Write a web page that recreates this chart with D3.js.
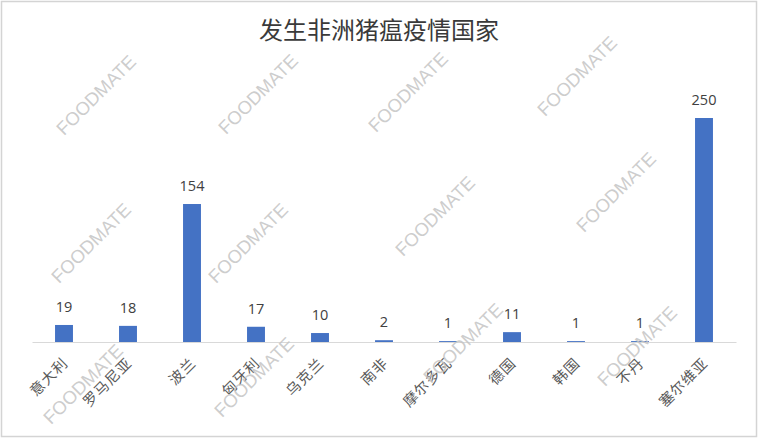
<!DOCTYPE html>
<html><head><meta charset="utf-8">
<script src="https://cdn.jsdelivr.net/npm/d3@7"></script>
<style>html,body{margin:0;padding:0;background:#fff;}svg{display:block;}</style>
</head><body>
<svg id="c" width="758" height="438"></svg>
<script>
const categories = ["意大利","罗马尼亚","波兰","匈牙利","乌克兰","南非","摩尔多瓦","德国","韩国","不丹","塞尔维亚"];
const values = [19,18,154,17,10,2,1,11,1,1,250];
const title = "发生非洲猪瘟疫情国家";
const watermark = "FOODMATE";
const watermarkSpots = [[96,95],[258,94],[408,92],[577,76],[435,216],[616,192],[91,243],[248,243],[83,384],[254,377],[463,343],[637,346]];

const W = 758, H = 438;
const svg = d3.select("#c");
svg.append("rect").attr("x",1.5).attr("y",1.5).attr("width",W-3).attr("height",H-3)
  .attr("fill","#fff").attr("stroke","#d4d4d4").attr("stroke-width",1.5);

const x = d3.scaleBand().domain(categories).range([32,736]).paddingInner(0.72).paddingOuter(0.36);
const y = d3.scaleLinear().domain([0,300]).range([342,73.2]);

svg.append("text").attr("x",379).attr("y",39).attr("text-anchor","middle")
  .attr("font-family","'Noto Sans CJK SC', sans-serif").attr("font-size",24)
  .attr("fill","#3a3a3a").text(title);

svg.append("g").selectAll("rect").data(values).join("rect")
  .attr("x",(d,i)=>x(categories[i])).attr("width",x.bandwidth())
  .attr("y",d=>y(d)).attr("height",d=>y(0)-y(d)).attr("fill","#4472C4");

const axis = svg.append("g").attr("transform",`translate(0,${y(0)})`)
  .call(d3.axisBottom(x).tickSize(0).tickFormat(""));
axis.select(".domain").attr("stroke","#d9d9d9").attr("stroke-width",1.2);

svg.append("g").selectAll("text").data(values).join("text")
  .attr("x",(d,i)=>x(categories[i])+x.bandwidth()/2).attr("y",d=>y(d)-13)
  .attr("text-anchor","middle").attr("font-family","'Open Sans', 'Liberation Sans', sans-serif")
  .attr("font-size",14.5).attr("fill","#404040").text(d=>d);

svg.append("g").selectAll("text").data(categories).join("text")
  .attr("transform",d=>`translate(${x(d)+x.bandwidth()/2+5},${y(0)+22}) rotate(-45)`)
  .attr("text-anchor","end").attr("font-family","'Noto Sans CJK SC', sans-serif")
  .attr("font-size",14.5).attr("letter-spacing",1).attr("fill","#595959").text(d=>d);

svg.append("g").selectAll("text").data(watermarkSpots).join("text")
  .attr("transform",d=>`translate(${d[0]},${d[1]}) rotate(-45)`)
  .attr("text-anchor","middle").attr("dominant-baseline","central")
  .attr("font-family","'Liberation Sans', Arial, sans-serif").attr("font-size",18.5)
  .attr("fill","#c4c4c4").attr("fill-opacity",0.85).text(watermark);
</script>
</body></html>
